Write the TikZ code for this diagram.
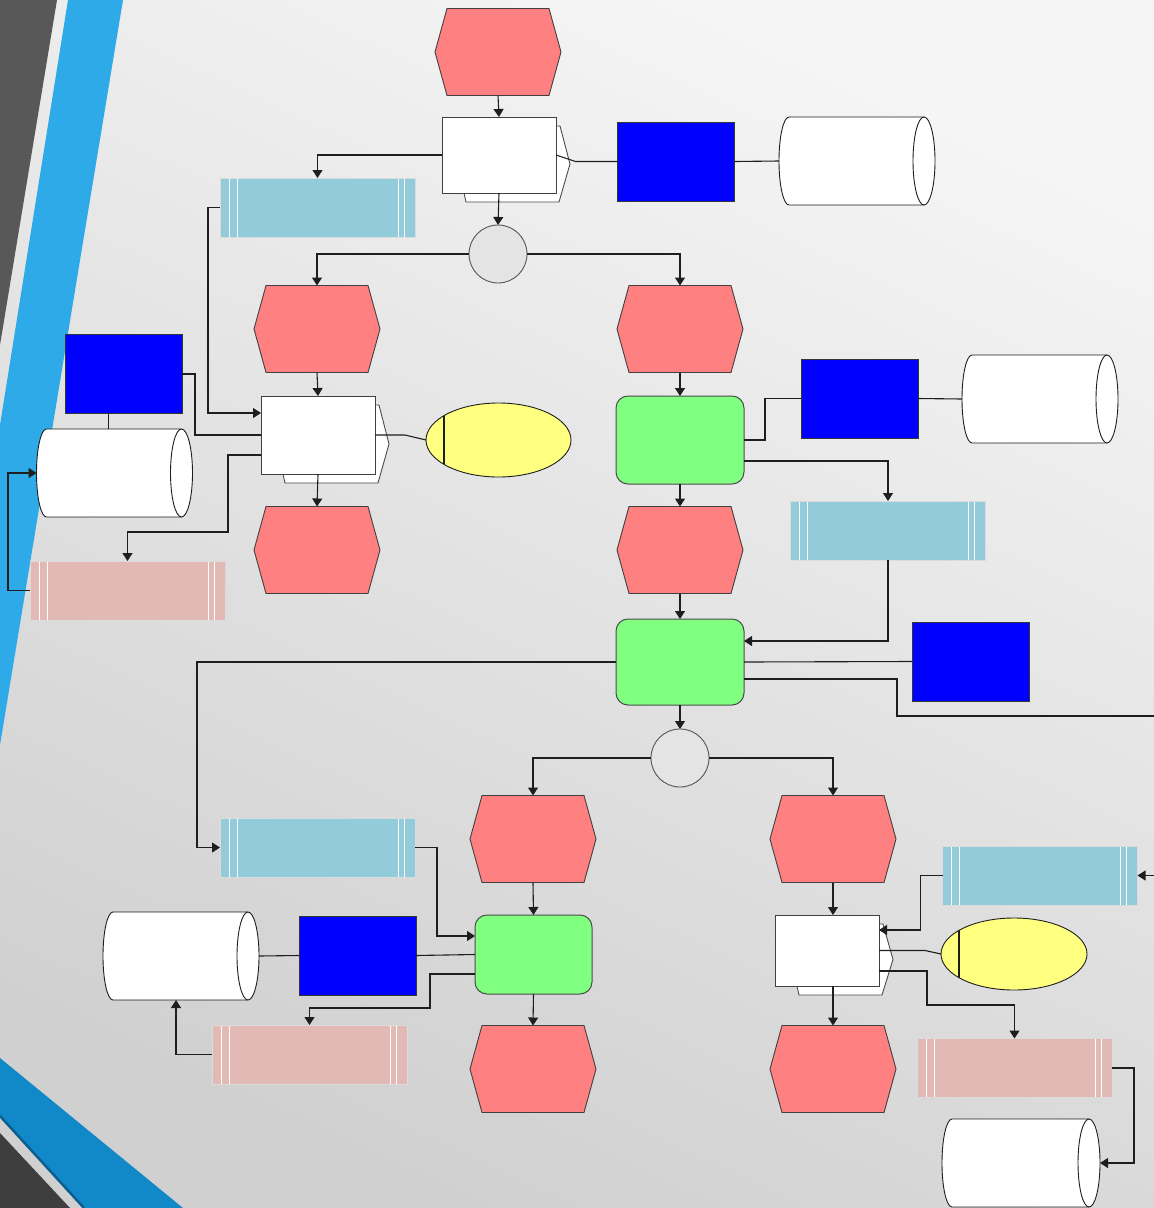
\documentclass[tikz,border=0pt]{standalone}
\usetikzlibrary{arrows.meta,calc,shapes.geometric}
\pgfdeclarelayer{bg}
\pgfdeclarelayer{back}
\pgfsetlayers{bg,back,main}

\definecolor{evfill}{HTML}{FF8080}
\definecolor{lnk}{HTML}{1E1E1E}
\definecolor{lstblue}{HTML}{92CCDA}
\definecolor{lstpink}{HTML}{E3B9B6}
\definecolor{fngreen}{HTML}{80FF80}
\definecolor{orgblue}{HTML}{0000FF}
\definecolor{msgyellow}{HTML}{FFFF80}
\definecolor{gwgrey}{HTML}{E4E4E4}
\definecolor{bandblue}{HTML}{2EAAE8}
\definecolor{banddeep}{HTML}{1188C8}
\definecolor{bandline}{HTML}{0B5E8E}
\definecolor{darkband}{HTML}{585858}
\definecolor{darkbandb}{HTML}{3E3E3E}
\definecolor{bglight}{HTML}{F5F5F5}
\definecolor{bgdark}{HTML}{D0D0D0}

% hexagonal event outline around an invisible box node
\newcommand\DrawEvent[1]{%
  \filldraw[evshape] ($(#1.north west)+(12,0)$) -- ($(#1.north east)+(-12,0)$)
    -- (#1.east) -- ($(#1.south east)+(-12,0)$) -- ($(#1.south west)+(12,0)$)
    -- (#1.west) -- cycle;}
% offset outline behind a function box
\newcommand\FnBack[1]{%
  \filldraw[fnback] ($(#1.south west)+(22,0)$) -- ($(#1.south west)+(24,9)$)
    -- ($(#1.south east)+(3,9)$) -- ($(#1.east)+(14,9)$)
    -- ($(#1.north east)+(4,9)$) -- ($(#1.north east)+(0,9)$);}
% lying cylinder (data store) filling an invisible box node
\newcommand\DrawStore[1]{%
  \fill[white] ($(#1.north west)+(10,0)$) rectangle ($(#1.south east)+(-11,0)$);
  \fill[white] ($(#1.west)+(10,0)$) ellipse [x radius=10, y radius=44];
  \draw[storeline] ($(#1.north east)+(-11,0)$) -- ($(#1.north west)+(10,0)$)
    arc [start angle=270, end angle=90, x radius=10, y radius=44]
    -- ($(#1.south east)+(-11,0)$);
  \filldraw[storeline, fill=white] ($(#1.east)+(-11,0)$) ellipse [x radius=11, y radius=44];}

\begin{document}
\begin{tikzpicture}[x=1pt,y=-1pt,
  every node/.style={inner sep=0pt, outer sep=0pt},
  evnode/.style={rectangle, minimum width=126pt, minimum height=87pt},
  evshape/.style={fill=evfill, draw=lnk!85, line width=0.9pt, line join=miter},
  fnnode/.style={rectangle, draw=lnk!85, fill=white, line width=1pt},
  fnback/.style={fill=white, draw=lnk!80, line width=0.9pt},
  gfn/.style={rectangle, rounded corners=12pt, draw=lnk!80, fill=fngreen, line width=1pt},
  org/.style={rectangle, draw=lnk!90, fill=orgblue, line width=1pt,
    minimum width=117pt, minimum height=79pt},
  storebox/.style={rectangle, minimum width=156pt, minimum height=88pt},
  storeline/.style={draw=lnk, line width=0.9pt},
  listbase/.style={rectangle, minimum width=195pt, minimum height=59pt,
    draw=white!72!gray, line width=0.8pt,
    path picture={
      \draw[white, line width=0.9pt]
        ([xshift=9pt]path picture bounding box.north west) -- ([xshift=9pt]path picture bounding box.south west)
        ([xshift=17pt]path picture bounding box.north west) -- ([xshift=17pt]path picture bounding box.south west)
        ([xshift=-11pt]path picture bounding box.north east) -- ([xshift=-11pt]path picture bounding box.south east)
        ([xshift=-17pt]path picture bounding box.north east) -- ([xshift=-17pt]path picture bounding box.south east);}},
  lstb/.style={listbase, fill=lstblue},
  lstp/.style={listbase, fill=lstpink},
  msg/.style={ellipse, draw=lnk, fill=msgyellow, line width=0.9pt,
    minimum width=145pt, minimum height=74pt,
    path picture={\draw[lnk, line width=1.1pt]
      ([xshift=18pt]path picture bounding box.north west) -- ([xshift=18pt]path picture bounding box.south west);}},
  gate/.style={circle, draw=lnk!75, fill=gwgrey, line width=0.9pt, minimum size=58pt},
  link/.style={draw=lnk, line width=1.1pt},
  flow/.style={link, -{Triangle[width=10pt,length=8pt]}}
]
\useasboundingbox (0,0) rectangle (1154,1208);

% backdrop and side bands
\begin{pgfonlayer}{bg}
  \shade[top color=bglight, bottom color=bgdark, shading angle=-25] (0,0) rectangle (1154,1208);
  \fill[darkband] (0,0) -- (57,0) -- (0,345) -- cycle;
  \fill[bandblue] (68,0) -- (123,0) -- (0,745) -- (0,425) -- cycle;
  \fill[banddeep] (0,1058) -- (183,1208) -- (84,1208) -- (0,1117) -- cycle;
  \draw[bandline, line width=2.5pt] (0,1116) -- (84,1208);
  \fill[darkbandb] (0,1133) -- (70,1208) -- (0,1208) -- cycle;
\end{pgfonlayer}

% events
\node[evnode] (e1) at (498,52) {};
\node[evnode] (e2) at (317,329) {};
\node[evnode] (e3) at (680,329) {};
\node[evnode] (e4) at (317,550) {};
\node[evnode] (e5) at (680,550) {};
\node[evnode] (e6) at (533,839) {};
\node[evnode] (e7) at (833,839) {};
\node[evnode] (e8) at (533,1069) {};
\node[evnode] (e9) at (833,1069) {};
\foreach \n in {e1,e2,e3,e4,e5,e6,e7,e8,e9} {\DrawEvent{\n}}

% functions
\node[fnnode, minimum width=114pt, minimum height=76pt] (f1) at (499,155) {};
\node[fnnode, minimum width=114pt, minimum height=78pt] (f2) at (318,435) {};
\node[fnnode, minimum width=104pt, minimum height=71pt] (f3) at (827,950.5) {};
\begin{pgfonlayer}{back}
  \FnBack{f1}
  \FnBack{f2}
  \FnBack{f3}
\end{pgfonlayer}

\node[gfn, minimum width=128pt, minimum height=88pt] (p1) at (680,440) {};
\node[gfn, minimum width=128pt, minimum height=86pt] (p2) at (680,662) {};
\node[gfn, minimum width=117pt, minimum height=79pt] (p3) at (533.5,954.5) {};

% organisational units
\node[org] (o1) at (676,161.5) {};
\node[org] (o2) at (123.5,374) {};
\node[org] (o3) at (859.5,398.5) {};
\node[org] (o4) at (970.5,661.5) {};
\node[org] (o5) at (357.5,955.5) {};

% data stores
\node[storebox] (s1) at (857,161) {};
\node[storebox] (s2) at (114.5,473) {};
\node[storebox] (s3) at (1040,399) {};
\node[storebox] (s4) at (181,956) {};
\node[storebox, minimum width=158pt] (s5) at (1021,1163) {};
\foreach \n in {s1,s2,s3,s4,s5} {\DrawStore{\n}}

% lists
\node[lstb] (l1) at (317.5,207.5) {};
\node[lstb] (l2) at (888,530.5) {};
\node[lstb] (l3) at (317.5,847.5) {};
\node[lstb] (l4) at (1040,875.5) {};
\node[lstp] (k1) at (127.5,590.5) {};
\node[lstp] (k2) at (309.5,1054.5) {};
\node[lstp] (k3) at (1014.5,1068) {};

% messages
\node[msg] (m1) at (498.5,440) {};
\node[msg, minimum width=146pt, minimum height=72pt] (m2) at (1014,954) {};

% gateways
\node[gate] (g1) at (498,254) {};
\node[gate] (g2) at (680,758) {};

\coordinate (outR) at (1154,716);
\coordinate (inR) at (1154,875.5);
\coordinate (o2s) at ($(o2.south)+(-15,0)$);

% connectors
\draw[flow] (e1.south) -- (f1.north);
\draw[flow] (f1.west) -| (l1.north);
\draw[flow] (l1.west) -- ++(-12,0) |- ($(f2.north west)+(0,17)$);
\draw[flow] (f1.south) -- (g1.north);
\draw[link] (f1.east) -- ($(o1.west)+(-42,0)$) -- (o1.west);
\draw[link] (o1.east) -- (s1.west);
\draw[flow] (g1.west) -| (e2.north);
\draw[flow] (g1.east) -| (e3.north);
\draw[flow] (e2.south) -- (f2.north);
\draw[link] (f2.east) -- ++(30,0) -- (m1.west);
\draw[link] (o2.east) -- ++(13,0) |- (f2.west);
\draw[link] (o2s) -- (o2s |- s2.north);
\draw[flow] ($(f2.south west)+(0,-19)$) -- ++(-33,0) -- ++(0,77) -| (k1.north);
\draw[flow] (k1.west) -- ++(-22,0) |- (s2.west);
\draw[flow] (f2.south) -- (e4.north);
\draw[flow] (e3.south) -- (p1.north);
\draw[link] (p1.east) -- ++(21,0) |- (o3.west);
\draw[link] (o3.east) -- (s3.west);
\draw[flow] ($(p1.east)+(0,21)$) -| (l2.north);
\draw[flow] (p1.south) -- (e5.north);
\draw[flow] (e5.south) -- (p2.north);
\draw[flow] (l2.south) |- ($(p2.east)+(0,-21)$);
\draw[link] (p2.east) -- (o4.west);
\draw[link] ($(p2.east)+(0,17)$) -- ++(153,0) |- (outR);
\draw[flow] (p2.west) -- ++(-419,0) |- (l3.west);
\draw[flow] (p2.south) -- (g2.north);
\draw[flow] (g2.west) -| (e6.north);
\draw[flow] (g2.east) -| (e7.north);
\draw[flow] (e6.south) -- (p3.north);
\draw[flow] (l3.east) -- ++(22,0) |- ($(p3.north west)+(0,21)$);
\draw[link] (p3.west) -- (o5.east);
\draw[link] (o5.west) -- (s4.east);
\draw[flow] ($(p3.south west)+(0,-20)$) -- ++(-45,0) -- ++(0,34) -| (k2.north);
\draw[flow] (k2.west) -| ($(s4.south)+(-5,0)$);
\draw[flow] (p3.south) -- (e8.north);
\draw[flow] (e7.south) -- (e7.south |- f3.north);
\draw[flow] (inR) -- (l4.east);
\draw[flow] (l4.west) -- ++(-22,0) |- ($(f3.north east)+(0,15)$);
\draw[link] (f3.east) -- ++(46,0) -- (m2.west);
\draw[flow] ($(f3.south east)+(0,-15)$) -- ++(48,0) -- ++(0,34) -| (k3.north);
\draw[flow] (k3.east) -- ++(22,0) |- (s5.east);
\draw[flow] (e9.north |- f3.south) -- (e9.north);
\end{tikzpicture}
\end{document}
